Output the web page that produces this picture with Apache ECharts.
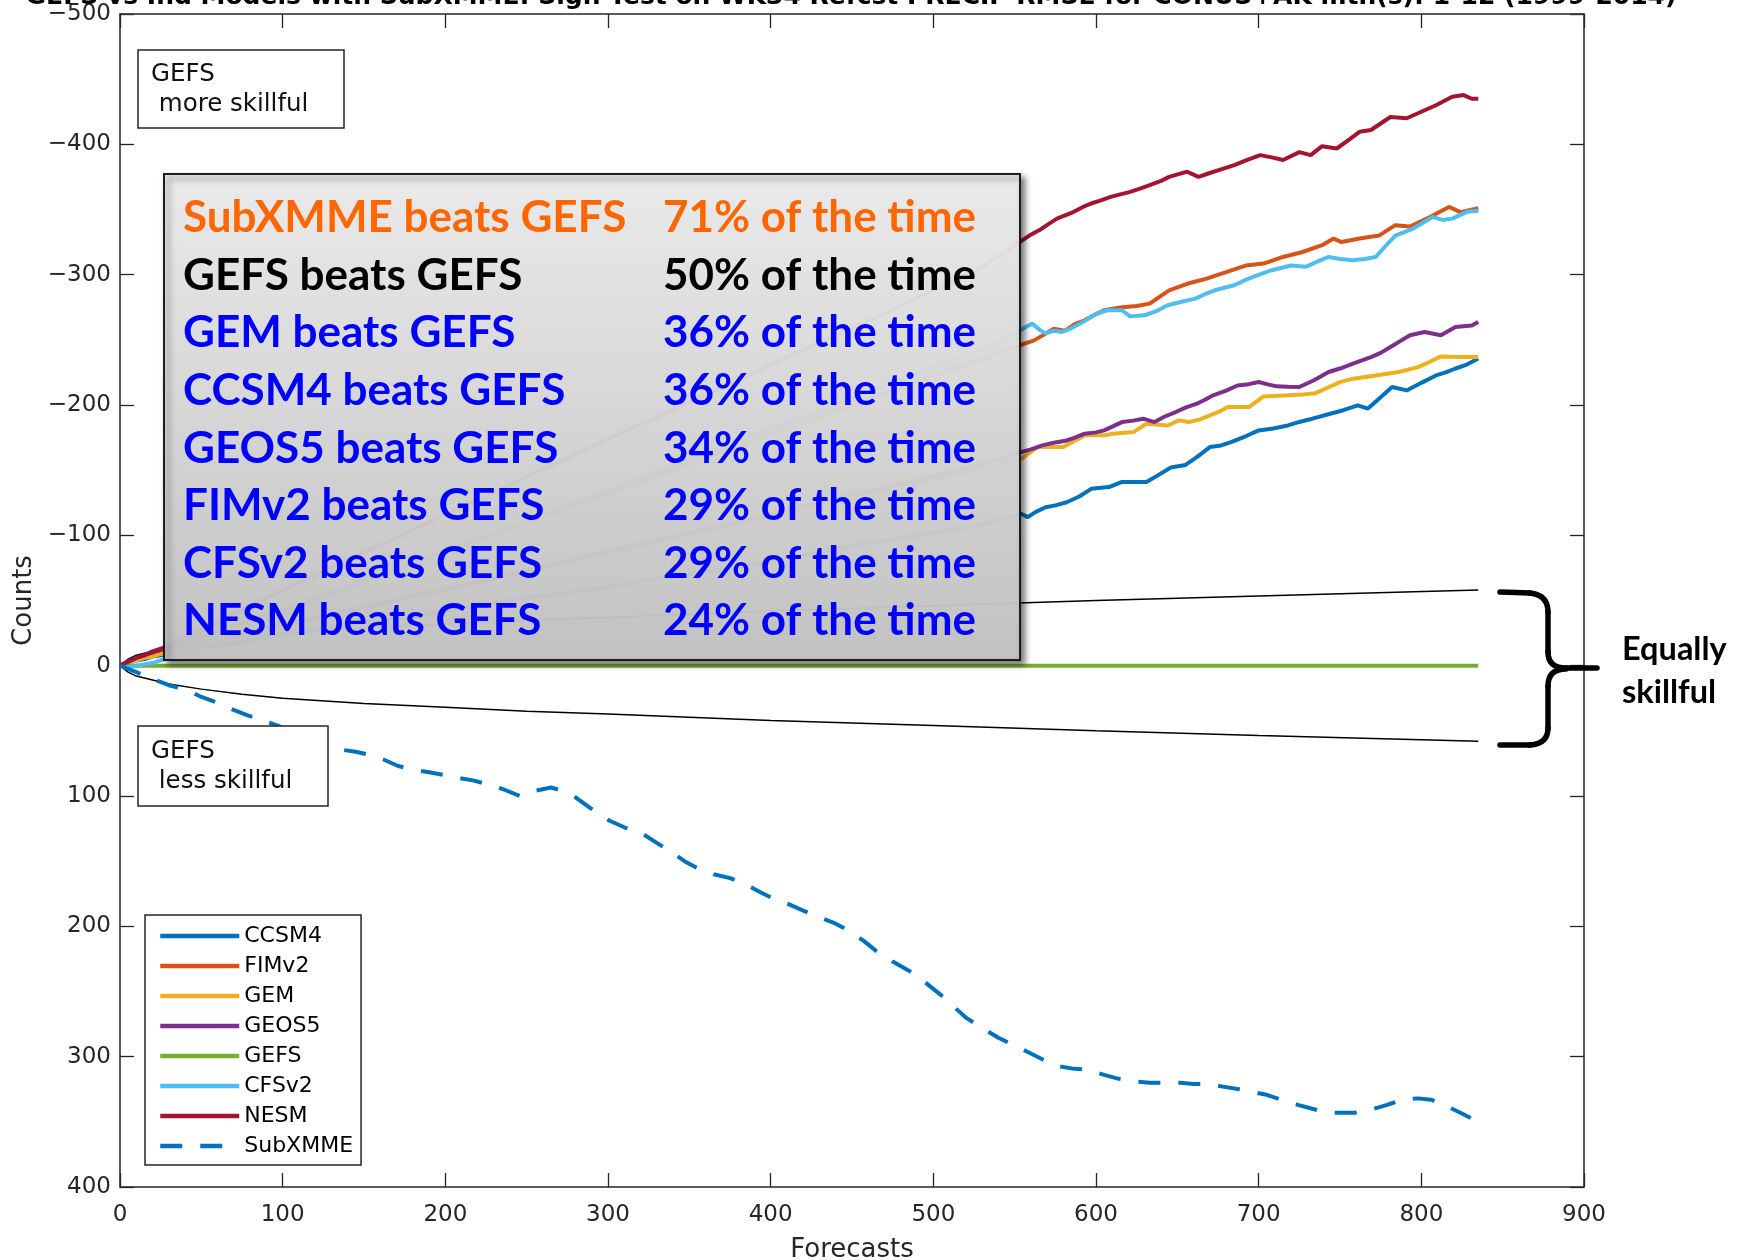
<!DOCTYPE html>
<html>
<head>
<meta charset="utf-8">
<script src="https://cdn.jsdelivr.net/npm/echarts@6/dist/echarts.min.js"></script>
<style>html,body{margin:0;padding:0;background:#fff}#c{width:1738px;height:1260px}</style>
</head>
<body>
<div id="c"></div>
<script>
const titleText = 'GEFS vs Ind Models with SubXMME: Sign Test on WK34 Refcst PRECIP RMSE for CONUS+AK mth(s): 1-12 (1999-2014)';
const xName = 'Forecasts';
const yName = 'Counts';
const seriesNames = ['CCSM4','FIMv2','GEM','GEOS5','GEFS','CFSv2','NESM','SubXMME'];
const seriesColors = ['#0072BD','#D95319','#EDB120','#7E2F8E','#77AC30','#4DBEEE','#A2142F','#0072BD'];

const ccsm4 = [[0,0],[5,-2],[10,-4],[15,-5],[20,-7],[25,-8],[50,-14],[75,-18],[100,-24],[125,-28],[150,-33],[175,-36],[200,-42],[225,-47],[250,-52],[275,-56],[300,-60],[325,-66],[350,-70],[375,-75],[400,-80],[425,-86],[450,-92],[475,-97],[500,-102],[525,-107],[545,-113],[554,-116.5],[558,-114],[563,-118],[569,-121.6],[575,-123],[582,-125.4],[590,-130],[597,-135.7],[608,-137],[616,-141],[624,-141],[631,-141],[638,-146],[646,-152],[655,-154],[662,-160],[670,-167.7],[677,-169],[683,-171.5],[692,-176],[700,-180.5],[709,-182],[718,-184.3],[725,-187],[733,-189.5],[744,-193.3],[752,-196],[761,-199.7],[767,-197.2],[775,-206],[782,-213.8],[791,-211.2],[800,-217],[809,-222.7],[815,-225],[821,-228],[828,-231],[835,-235.6]];
const fimv2 = [[0,0],[5,-3],[10,-5],[15,-7],[20,-9],[25,-11],[50,-22],[75,-33],[100,-43],[125,-54],[150,-65],[175,-76],[200,-88],[225,-98],[250,-110],[275,-121],[300,-133],[325,-143],[350,-155],[375,-166],[400,-178],[425,-189],[450,-200],[475,-211],[500,-223],[525,-233],[545,-242],[553,-245.8],[562,-249.6],[568,-254],[574,-258.6],[581,-257],[587,-262],[593,-265],[599,-269],[605,-272.7],[616,-275],[625,-276],[633,-277.8],[639,-283],[645,-288],[656,-293],[668,-297],[680,-302],[692,-307],[703,-308.5],[715,-313.6],[727,-317.4],[739,-322.6],[746,-327.7],[751,-325],[762,-327.7],[774,-330],[784,-338],[793,-337],[805,-344],[817,-352],[824,-348],[835,-351]];
const gem = [[0,0],[5,-2],[10,-4],[15,-6],[20,-7],[25,-9],[50,-16],[75,-23],[100,-30],[125,-37],[150,-44],[175,-51],[200,-58],[225,-65],[250,-72],[275,-79],[300,-86],[325,-93],[350,-100],[375,-107],[400,-114],[425,-121],[450,-128],[475,-135],[500,-142],[525,-150],[545,-156],[554,-158.7],[559,-163],[564,-167.7],[572,-167.7],[580,-167.7],[586,-172],[593,-176.7],[600,-176.7],[605,-176.7],[610,-178],[623,-179.2],[631,-185.6],[637,-185],[644,-184.3],[651,-188.2],[657,-186.9],[664,-189],[670,-192],[676,-195],[681,-198.4],[694,-198.4],[698,-202],[703,-206.6],[710,-207],[718,-207.4],[727,-208],[735,-209.1],[741,-212.5],[750,-217.6],[758,-220.2],[772,-222.7],[786,-225.3],[798,-229.1],[805,-233],[812,-237.3],[824,-236.8],[835,-236.8]];
const geos5 = [[0,0],[5,-3],[10,-6],[15,-8],[20,-10],[25,-12],[50,-18],[75,-25],[100,-32],[125,-38],[150,-45],[175,-52],[200,-59],[225,-66],[250,-73],[275,-80],[300,-88],[325,-95],[350,-102],[375,-109],[400,-116],[425,-124],[450,-131],[475,-138],[500,-145],[525,-153],[545,-160],[554,-163.8],[560,-166],[567,-169],[574,-171],[582,-172.8],[587,-175],[593,-178],[600,-179],[605,-180.5],[611,-184],[616,-186.9],[623,-188],[629,-189.5],[636,-186.9],[642,-191],[649,-194.6],[655,-198],[662,-201],[667,-204],[672,-207.4],[680,-211],[687,-215],[694,-216],[700,-217.6],[705,-216],[711,-214.3],[718,-214],[725,-213.8],[734,-219],[743,-225.3],[750,-228],[758,-231.7],[769,-236.8],[775,-240],[781,-244.5],[787,-249],[793,-253.5],[802,-256],[812,-253.5],[821,-259.8],[831,-261],[835,-263.7]];
const gefs = [[0,0],[835,0]];
const cfsv2 = [[0,0],[5,1],[10,0],[15,-1],[20,-2],[25,-4],[50,-15],[75,-28],[100,-40],[125,-52],[150,-64],[175,-76],[200,-88],[225,-99],[250,-111],[275,-123],[300,-134],[325,-146],[350,-158],[375,-170],[400,-182],[425,-193],[450,-205],[475,-217],[500,-229],[525,-240],[545,-251],[553,-257],[557,-260],[561,-262.4],[565,-258],[569,-254.8],[574,-257],[579,-256],[585,-259],[590,-262.4],[595,-266],[600,-270],[607,-272.7],[616,-272.7],[621,-268],[630,-268.8],[637,-272],[644,-276.5],[652,-279],[661,-281.6],[667,-285],[673,-288],[685,-291.9],[692,-296],[699,-299.5],[708,-303.4],[720,-307],[729,-306],[736,-310],[743,-313.6],[750,-312],[758,-311],[765,-312],[772,-313.6],[778,-322],[784,-330],[795,-335.4],[807,-344.3],[813,-342],[819,-343],[828,-348.2],[835,-349]];
const nesm = [[0,0],[5,-3],[10,-6],[15,-8],[20,-11],[25,-13],[50,-27],[75,-43],[100,-58],[125,-72],[150,-87],[175,-101],[200,-116],[225,-130],[250,-145],[275,-159],[300,-174],[325,-188],[350,-202],[375,-216],[400,-231],[425,-245],[450,-259],[475,-273],[500,-288],[525,-302],[545,-318],[553,-325],[559,-330],[565,-334],[571,-339],[576,-343],[586,-348],[592,-352],[597,-354.6],[603,-357],[609,-359.7],[621,-363.5],[627,-366],[633,-368.7],[640,-372],[645,-375],[656,-379],[663,-375],[670,-378],[675,-380],[685,-384],[693,-388],[701,-391.7],[708,-390],[715,-388],[725,-394],[732,-391.7],[739,-398.6],[748,-396.8],[755,-403],[762,-409.6],[769,-411],[775,-416],[781,-421],[791,-420],[800,-425],[809,-430],[819,-436.5],[826,-437.8],[831,-435],[835,-435]];
const subxmme = [[0,0],[1,1.3],[10,5],[20,10],[30,15],[42,19],[50,24],[59,28],[68,33],[78,38],[88,42],[97,46],[110,53],[122,59],[133,64],[145,66],[152,68],[162,72],[171,77],[181,80],[191,82],[200,84],[207,86],[217,88],[226,91],[236,95],[246,100],[255,96],[265,93.5],[272,96],[279,100],[290,110],[301,119],[310,124],[320,128],[330,136],[339,143],[347,150],[356,156],[365,160],[375,163],[385,168],[394,174],[402,179],[411,183],[420,188],[430,193],[440,198],[449,204],[457,211],[465,219],[475,227],[485,234],[495,243],[504,252],[512,261],[520,270],[530,278],[540,285.5],[549,291],[559,297],[567,302],[575,307],[585,309],[595,310],[605,314],[614,317],[623,319],[633,320],[642,320],[652,320],[660,321],[669,321],[678,323],[688,325],[696,327],[704,329],[714,333],[724,337],[733,340],[743,343],[751,343],[759,343],[768,341],[779,337],[788,333],[798,332],[806,333],[814,337],[824,343],[834,349.5]];

const boundX     = [0, 5, 10, 20, 30, 50, 75, 100, 150, 200, 250, 300, 400, 500, 600, 700, 835];
const boundUpper = [0, -5, -8, -11, -14, -18, -22, -25, -29, -32, -35, -37, -42, -46, -50, -53.5, -58];
const boundLower = [0, 5, 8, 11, 14, 18, 22, 25, 29, 32, 35, 37, 42, 46, 50, 53.5, 58];

const beatsLeft  = ['SubXMME beats GEFS','GEFS beats GEFS','GEM beats GEFS','CCSM4 beats GEFS','GEOS5 beats GEFS','FIMv2 beats GEFS','CFSv2 beats GEFS','NESM beats GEFS'];
const beatsRight = ['71% of the time','50% of the time','36% of the time','36% of the time','34% of the time','29% of the time','29% of the time','24% of the time'];
const beatsColors = ['#FF6600','#000000','#0000FF','#0000FF','#0000FF','#0000FF','#0000FF','#0000FF'];

const chart = echarts.init(document.getElementById('c'));
const seriesData = [ccsm4, fimv2, gem, geos5, gefs, cfsv2, nesm, subxmme];
const axisColor = '#262626';

const series = seriesNames.map((n, i) => ({
  name: n, type: 'line', data: seriesData[i], showSymbol: false, symbol: 'none',
  lineStyle: { color: seriesColors[i], width: 4, type: n === 'SubXMME' ? [22, 18] : 'solid' },
  itemStyle: { color: seriesColors[i] }, z: 3 + i
}));
series.push({ name: 'bound+', type: 'line', data: boundX.map((x, i) => [x, boundUpper[i]]), showSymbol: false, symbol: 'none', lineStyle: { color: '#000', width: 1.5 }, z: 2 });
series.push({ name: 'bound-', type: 'line', data: boundX.map((x, i) => [x, boundLower[i]]), showSymbol: false, symbol: 'none', lineStyle: { color: '#000', width: 1.5 }, z: 2 });

const graphics = [];
graphics.push({ type: 'rect', z: 100, shape: { x: 138, y: 50, width: 206, height: 78 }, style: { fill: '#fff', stroke: axisColor, lineWidth: 1.5 } });
graphics.push({ type: 'text', z: 101, x: 151, y: 60, style: { text: 'GEFS\n more skillful', fontFamily: 'DejaVu Sans', fontSize: 24.5, lineHeight: 30, fill: '#111' } });
graphics.push({ type: 'rect', z: 100, shape: { x: 138, y: 726, width: 190, height: 80 }, style: { fill: '#fff', stroke: axisColor, lineWidth: 1.5 } });
graphics.push({ type: 'text', z: 101, x: 151, y: 737, style: { text: 'GEFS\n less skillful', fontFamily: 'DejaVu Sans', fontSize: 24.5, lineHeight: 30, fill: '#111' } });
graphics.push({ type: 'rect', z: 100, shape: { x: 164, y: 174, width: 856, height: 486 },
  style: { fill: new echarts.graphic.LinearGradient(0, 0, 0, 1, [{ offset: 0, color: '#f1f1f1' }, { offset: 1, color: '#c6c6c6' }]),
           stroke: '#111', lineWidth: 2, opacity: 0.94, shadowBlur: 6, shadowOffsetX: 4, shadowOffsetY: 4, shadowColor: 'rgba(0,0,0,0.55)' } });
beatsLeft.forEach((t, i) => {
  const y = 218 + i * 57.6;
  graphics.push({ type: 'text', z: 102, x: 183, y: y, style: { text: t, fontFamily: 'Lato', fontWeight: 'bold', fontSize: 44, fill: beatsColors[i], verticalAlign: 'middle' } });
  graphics.push({ type: 'text', z: 102, x: 663, y: y, style: { text: beatsRight[i], fontFamily: 'Lato', fontWeight: 'bold', fontSize: 44, fill: beatsColors[i], verticalAlign: 'middle' } });
});
// curly brace built from lines and bezier curves
const braceStyle = { stroke: '#000', lineWidth: 5.5, lineCap: 'round', fill: null };
[
  { type: 'line', shape: { x1: 1500, y1: 592, x2: 1530, y2: 593 } },
  { type: 'bezierCurve', shape: { x1: 1530, y1: 593, cpx1: 1548, cpy1: 595, x2: 1548, y2: 612 } },
  { type: 'line', shape: { x1: 1548, y1: 612, x2: 1548, y2: 652 } },
  { type: 'bezierCurve', shape: { x1: 1548, y1: 652, cpx1: 1548, cpy1: 668, x2: 1566, y2: 668 } },
  { type: 'line', shape: { x1: 1566, y1: 668, x2: 1597, y2: 668 } },
  { type: 'bezierCurve', shape: { x1: 1566, y1: 669, cpx1: 1548, cpy1: 669, x2: 1548, y2: 686 } },
  { type: 'line', shape: { x1: 1548, y1: 686, x2: 1548, y2: 728 } },
  { type: 'bezierCurve', shape: { x1: 1548, y1: 728, cpx1: 1548, cpy1: 744, x2: 1530, y2: 745 } },
  { type: 'line', shape: { x1: 1530, y1: 745, x2: 1500, y2: 745 } }
].forEach(el => { el.z = 100; el.style = braceStyle; graphics.push(el); });
graphics.push({ type: 'text', z: 101, x: 1622, y: 650, style: { text: 'Equally', fontFamily: 'Lato', fontWeight: 'bold', fontSize: 32.5, fill: '#000', verticalAlign: 'middle' } });
graphics.push({ type: 'text', z: 101, x: 1622, y: 693, style: { text: 'skillful', fontFamily: 'Lato', fontWeight: 'bold', fontSize: 32.5, fill: '#000', verticalAlign: 'middle' } });

const tickStyle = { show: true, inside: true, length: 14, lineStyle: { color: axisColor, width: 1.3 } };
const lineStyleAxis = { show: true, onZero: false, lineStyle: { color: axisColor, width: 1.5 } };
const minusFmt = v => (v < 0 ? '\u2212' + Math.abs(v) : String(v));

chart.setOption({
  animation: false,
  backgroundColor: '#fff',
  title: { text: titleText, left: 851, textAlign: 'center', top: -15, padding: 0,
    textStyle: { fontFamily: 'DejaVu Sans', fontWeight: 'bold', fontSize: 25, color: '#000' } },
  grid: { left: 120, right: 154, top: 14, bottom: 73, outerBoundsMode: 'none', containLabel: false },
  xAxis: [
    { type: 'value', min: 0, max: 900, interval: 100, position: 'bottom',
      axisLine: lineStyleAxis, axisTick: tickStyle, splitLine: { show: false },
      axisLabel: { fontFamily: 'DejaVu Sans', fontSize: 23, color: axisColor, margin: 17 },
      name: xName, nameLocation: 'middle', nameGap: 50,
      nameTextStyle: { fontFamily: 'DejaVu Sans', fontSize: 26, color: axisColor } },
    { type: 'value', min: 0, max: 900, interval: 100, position: 'top',
      axisLine: lineStyleAxis, axisTick: tickStyle, splitLine: { show: false }, axisLabel: { show: false } }
  ],
  yAxis: [
    { type: 'value', inverse: true, min: -500, max: 400, interval: 100, position: 'left',
      axisLine: lineStyleAxis, axisTick: tickStyle, splitLine: { show: false },
      axisLabel: { fontFamily: 'DejaVu Sans', fontSize: 23, color: axisColor, margin: 9, formatter: minusFmt },
      name: yName, nameLocation: 'middle', nameGap: 80, nameRotate: 90,
      nameTextStyle: { fontFamily: 'DejaVu Sans', fontSize: 26, color: axisColor } },
    { type: 'value', inverse: true, min: -500, max: 400, interval: 100, position: 'right',
      axisLine: lineStyleAxis, axisTick: tickStyle, splitLine: { show: false }, axisLabel: { show: false } }
  ],
  legend: {
    data: seriesNames, orient: 'vertical', left: 145, top: 915,
    backgroundColor: '#fff', borderColor: axisColor, borderWidth: 1.5,
    padding: [10, 8, 8, 13], itemWidth: 79, itemHeight: 4, itemGap: 8,
    itemStyle: { opacity: 0 }, lineStyle: { width: 4.5 },
    textStyle: { fontFamily: 'DejaVu Sans', fontSize: 22, color: '#000' }, z: 50 },
  series: series,
  graphic: graphics
});
</script>
</body>
</html>
